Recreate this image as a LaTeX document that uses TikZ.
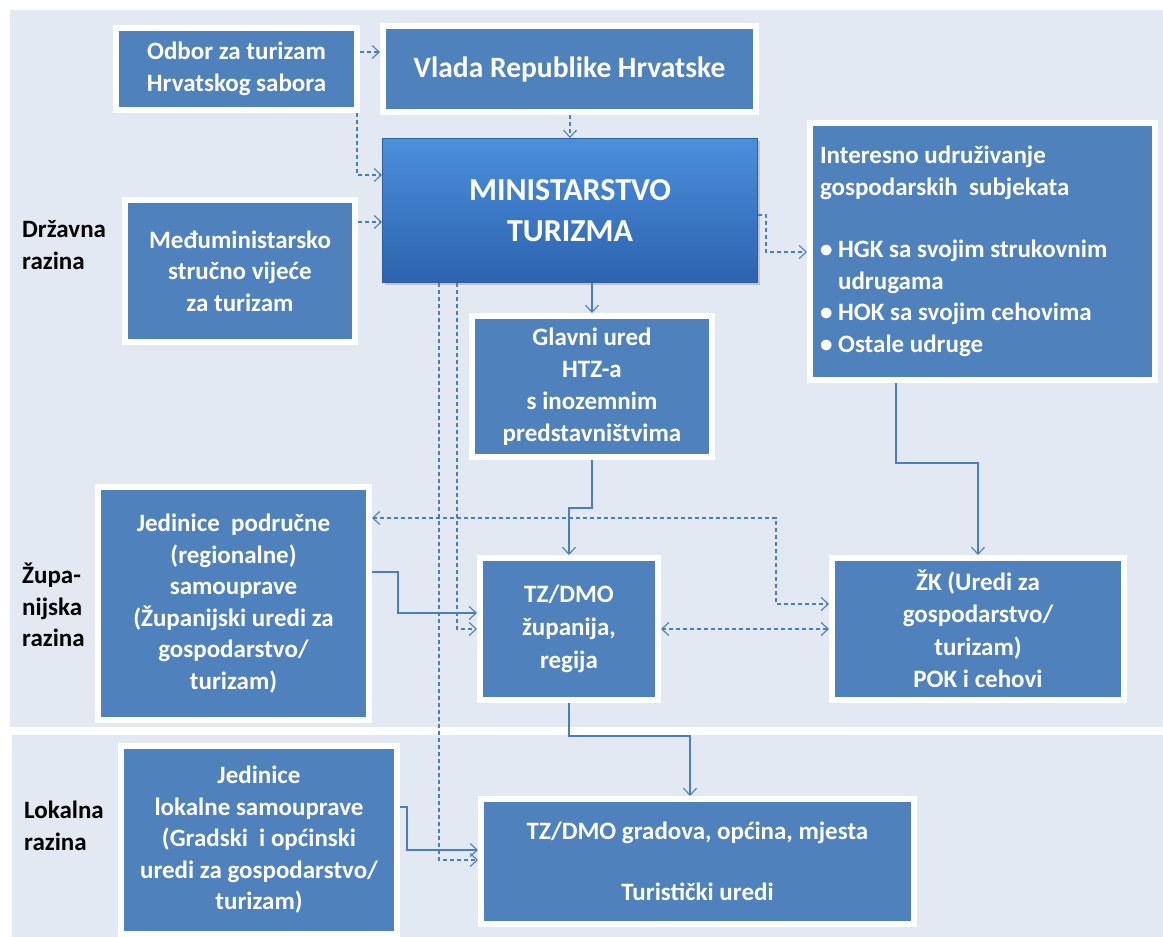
\documentclass[tikz,border=0pt]{standalone}
\usepackage{fontspec}
\setmainfont{Carlito}
\usetikzlibrary{arrows.meta,shadows,calc}
\definecolor{boxblue}{HTML}{4F81BD}
\definecolor{bandbg}{HTML}{E3E9F3}
\definecolor{linec}{HTML}{4A7EBB}
\definecolor{mintop}{HTML}{4B8FDC}
\definecolor{minbot}{HTML}{2D63AF}
\definecolor{minedge}{HTML}{2F5E9E}
\begin{document}
\begin{tikzpicture}[x=1pt,y=-1pt,
  box/.style={draw=white, line width=6pt, fill=boxblue, text=white,
    font=\fontsize{25}{31.5}\selectfont\bfseries, align=center, inner sep=0pt,
    drop shadow={shadow xshift=2pt, shadow yshift=-2.5pt, opacity=0.3}},
  minbox/.style={draw=minedge, line width=1pt, top color=mintop, bottom color=minbot,
    text=white, font=\fontsize{32}{41}\selectfont\bfseries, align=center, inner sep=0pt,
    drop shadow={shadow xshift=2pt, shadow yshift=-2.5pt, opacity=0.35}},
  lab/.style={font=\fontsize{25}{31.5}\selectfont\bfseries, align=left, anchor=west, inner sep=0pt, text=black},
  sl/.style={draw=linec, line width=1.1pt, -{Straight Barb[length=7pt,width=13pt]}},
  dl/.style={sl, dash pattern=on 4pt off 3pt},
  dlb/.style={dl, {Straight Barb[length=7pt,width=13pt]}-{Straight Barb[length=7pt,width=13pt]}}
]
\useasboundingbox (0,0) rectangle (1163,937);
\fill[white] (0,0) rectangle (1163,937);
\fill[bandbg] (10,10) rectangle (1163,727);
\fill[bandbg] (12,735) rectangle (1163,937);

% level labels
\node[lab] (lv1) at (22,245) {Državna\\razina};
\node[lab] (lv2) at (22,605) {Župa-\\nijska\\razina};
\node[lab] (lv3) at (24,826) {Lokalna\\razina};

% boxes
\node[box, minimum width=241pt, minimum height=82pt] (odbor) at (236.5,69) {Odbor za turizam\\Hrvatskog sabora};
\node[box, minimum width=373pt, minimum height=86pt, font=\fontsize{29.5}{34}\selectfont\bfseries] (vlada) at (569.5,69) {Vlada Republike Hrvatske};
\node[minbox, minimum width=375pt, minimum height=144pt] (min) at (570,210.5) {MINISTARSTVO\\TURIZMA};
\node[box, minimum width=230pt, minimum height=142pt] (medj) at (240,271) {Međuministarsko\\stručno vijeće\\za turizam};
\node[box, minimum width=345pt, minimum height=257pt, text width=325pt, align=left] (inter) at (982.5,251.5)
  {\spaceskip=0pt\xspaceskip=0pt\relax Interesno udruživanje\\gospodarskih\ \ subjekata\\[31pt]\textbullet\ HGK sa svojim strukovnim\\\phantom{\textbullet\ }udrugama\\\textbullet\ HOK sa svojim cehovima\\\textbullet\ Ostale udruge};
\node[box, minimum width=240pt, minimum height=141pt, font=\fontsize{25}{32}\selectfont\bfseries] (glavni) at (592,386.5) {Glavni ured\\HTZ-a\\s inozemnim\\predstavništvima};
\node[box, minimum width=271pt, minimum height=233pt] (jpod) at (233.5,603.5) {Jedinice\ \ područne\\(regionalne)\\samouprave\\(Županijski uredi za\\gospodarstvo/\\turizam)};
\node[box, minimum width=178pt, minimum height=142pt, font=\fontsize{25}{33}\selectfont\bfseries] (tzz) at (569,629) {TZ/DMO\\županija,\\regija};
\node[box, minimum width=292pt, minimum height=142pt, font=\fontsize{25}{32.5}\selectfont\bfseries] (zk) at (978,629) {ŽK (Uredi za\\gospodarstvo/\\turizam)\\POK i cehovi};
\node[box, minimum width=276pt, minimum height=188pt] (jlok) at (259,840) {Jedinice\\lokalne samouprave\\(Gradski\ \ i općinski\\uredi za gospodarstvo/\\turizam)};
\node[box, minimum width=433pt, minimum height=125pt] (tzg) at (697.5,861.5) {TZ/DMO gradova, općina, mjesta\\[29pt]Turistički uredi};

% helper coordinates
\coordinate (b1) at (357,175);
\coordinate (d1) at (0,222);
\coordinate (e1) at (766,215);
\coordinate (e2) at (766,252);
\coordinate (g1) at (457,629);
\coordinate (g2) at (439,860);
\coordinate (h1) at (592,508);
\coordinate (i1) at (776,518);
\coordinate (i2) at (776,604);
\coordinate (j1) at (398,572);
\coordinate (j2) at (398,613);
\coordinate (l1) at (896,463);
\coordinate (m1) at (569,736);
\coordinate (m2) at (690,736);
\coordinate (n1) at (407,807);
\coordinate (n2) at (407,850);

% connectors
\draw[dl] ($(odbor.east)+(0,-17)$) -- ($(vlada.west)+(0,-17)$);
\draw[dl] (odbor.south -| b1) -- (b1) -- (min.west |- b1);
\draw[dl] (vlada.south -| min.north) -- (min.north);
\draw[dl] (medj.east |- d1) -- (min.west |- d1);
\draw[dl] (min.east |- e1) -- (e1) -- (e2) -- (inter.west |- e2);
\draw[sl] (min.south -| glavni.north) -- (glavni.north);
\draw[dl] (min.south -| g1) -- (g1) -- (tzz.west |- g1);
\draw[dl] (min.south -| g2) -- (g2) -- (tzg.west |- g2);
\draw[sl] (glavni.south) -- (h1) -| (tzz.north);
\draw[dlb] (jpod.east |- i1) -- (i1) -- (i2) -- (zk.west |- i2);
\draw[sl] (jpod.east |- j1) -- (j1) -- (j2) -- (tzz.west |- j2);
\draw[dlb] (tzz.east) -- (zk.west);
\draw[sl] (inter.south -| l1) -- (l1) -| (zk.north);
\draw[sl] (tzz.south) -- (m1) -- (m2) -- (tzg.north -| m2);
\draw[sl] (jlok.east |- n1) -- (n1) -- (n2) -- (tzg.west |- n2);
\end{tikzpicture}
\end{document}
